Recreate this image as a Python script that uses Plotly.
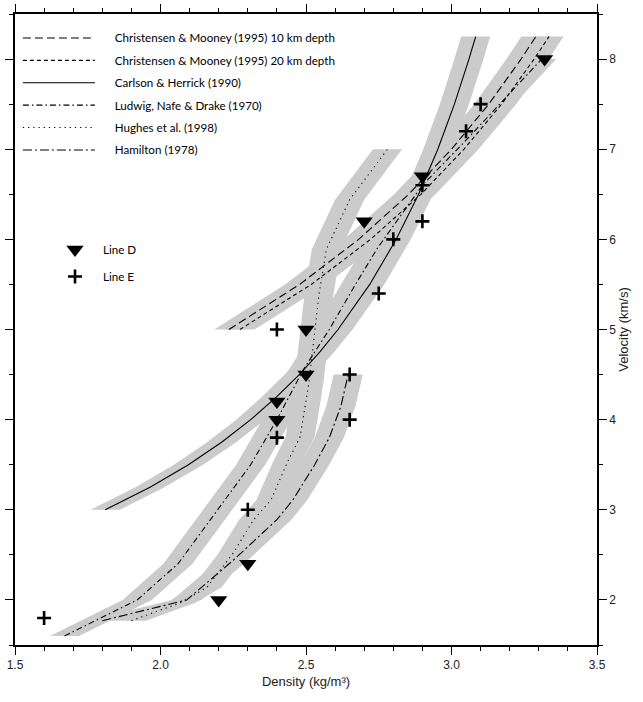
import plotly.graph_objects as go

# ---------------- data ----------------
# Christensen & Mooney (1995) 10 km depth
cm10_rho = [2.235, 2.478, 2.681, 2.853, 3.000, 3.128, 3.239, 3.290]
cm10_vp = [5.0, 5.5, 6.0, 6.5, 7.0, 7.5, 8.0, 8.25]
# Christensen & Mooney (1995) 20 km depth
cm20_rho = [2.273, 2.518, 2.722, 2.895, 3.043, 3.172, 3.284, 3.335]
cm20_vp = [5.0, 5.5, 6.0, 6.5, 7.0, 7.5, 8.0, 8.25]
# Carlson & Herrick (1990)
ch_rho = [1.81, 1.964, 2.096, 2.21, 2.31, 2.398, 2.477, 2.547, 2.61, 2.719, 2.81, 2.887, 2.953, 3.01, 3.06, 3.083]
ch_vp = [3.0, 3.25, 3.5, 3.75, 4.0, 4.25, 4.5, 4.75, 5.0, 5.5, 6.0, 6.5, 7.0, 7.5, 8.0, 8.25]
# Ludwig, Nafe & Drake (1970)
lnd_rho = [1.67, 1.92, 2.06, 2.15, 2.22, 2.31, 2.40, 2.49, 2.58, 2.67, 2.745, 2.90, 3.05, 3.18, 3.31]
lnd_vp = [1.6, 2.0, 2.4, 2.8, 3.1, 3.5, 4.0, 4.55, 5.0, 5.5, 5.9, 6.6, 7.1, 7.55, 8.0]
# Hughes et al. (1998)
hu_rho = [1.90, 2.07, 2.16, 2.25, 2.32, 2.38, 2.435, 2.48, 2.51, 2.53, 2.545, 2.57, 2.65, 2.78]
hu_vp = [1.77, 1.97, 2.14, 2.52, 2.89, 3.11, 3.52, 3.81, 4.41, 5.0, 5.4, 5.89, 6.44, 7.0]
# Hamilton (1978)
ha_rho = [1.80, 2.09, 2.25, 2.40, 2.455, 2.53, 2.58, 2.62, 2.645]
ha_vp = [1.77, 2.0, 2.44, 2.89, 3.11, 3.5, 3.8, 4.15, 4.5]

# Observations
line_d_rho = [2.2, 2.3, 2.4, 2.4, 2.5, 2.5, 2.7, 2.9, 3.32]
line_d_vp = [2.0, 2.4, 4.0, 4.2, 4.5, 5.0, 6.2, 6.7, 8.0]
line_e_rho = [1.6, 2.3, 2.4, 2.4, 2.65, 2.65, 2.75, 2.8, 2.9, 2.9, 3.05, 3.1]
line_e_vp = [1.8, 3.0, 3.8, 5.0, 4.0, 4.5, 5.4, 6.0, 6.2, 6.6, 7.2, 7.5]

curve_names = [
    "Christensen & Mooney (1995) 10 km depth",
    "Christensen & Mooney (1995) 20 km depth",
    "Carlson & Herrick (1990)",
    "Ludwig, Nafe & Drake (1970)",
    "Hughes et al. (1998)",
    "Hamilton (1978)",
]
curves = [(cm10_rho, cm10_vp), (cm20_rho, cm20_vp), (ch_rho, ch_vp),
          (lnd_rho, lnd_vp), (hu_rho, hu_vp), (ha_rho, ha_vp)]
dashes = ["8px,4px", "4px,3px", "solid", "6px,3px,1.5px,3px", "1.2px,4px", "9px,3px,2px,3px"]

BAND = 0.05  # half width of grey uncertainty band (density units)
PAD = "\u00a0\u00a0\u00a0\u00a0\u00a0"

fig = go.Figure()

# grey bands
for rho, vp in curves:
    bx = [r + BAND for r in rho] + [r - BAND for r in rho[::-1]]
    by = list(vp) + list(vp[::-1])
    fig.add_trace(go.Scatter(x=bx, y=by, mode="lines", fill="toself",
                             fillcolor="#cbcbcb", line=dict(width=0),
                             showlegend=False, hoverinfo="skip"))

# curves
for i, ((rho, vp), name, dash) in enumerate(zip(curves, curve_names, dashes)):
    fig.add_trace(go.Scatter(x=rho, y=vp, mode="lines", name=PAD + name,
                             line=dict(color="black", width=1.1, dash=dash),
                             legendgroup=f"g{i}", legend="legend"))

# observations
fig.add_trace(go.Scatter(x=line_d_rho, y=line_d_vp, mode="markers", name="Line D",
                         marker=dict(symbol="triangle-down", size=15, color="black"),
                         legendgroup="d", legend="legend2"))
fig.add_trace(go.Scatter(x=line_e_rho, y=line_e_vp, mode="markers", name="Line E",
                         marker=dict(symbol="cross-thin", size=10,
                                     line=dict(color="black", width=2.6), color="black"),
                         legendgroup="e", legend="legend2"))

tickfont = dict(family="Liberation Sans Narrow, Liberation Sans, Arial", size=12, color="#222")
titlefont = dict(family="Liberation Sans Narrow, Liberation Sans, Arial", size=13, color="#222")
legfont = dict(family="Lato, Open Sans, sans-serif", size=11.6, color="black")

fig.update_layout(
    width=643, height=702,
    margin=dict(l=15, r=46, t=14, b=57),
    plot_bgcolor="white", paper_bgcolor="white",
    legend=dict(x=0.005, y=0.985, xanchor="left", yanchor="top",
                bgcolor="rgba(0,0,0,0)", font=legfont, itemwidth=72,
                tracegroupgap=3.4, traceorder="grouped"),
    legend2=dict(x=0.055, y=0.6498, xanchor="left", yanchor="top",
                 bgcolor="rgba(0,0,0,0)", font=legfont, itemwidth=46,
                 tracegroupgap=8, traceorder="grouped"),
    xaxis=dict(range=[1.5, 3.5], dtick=0.5, tickformat=".1f", automargin=False,
               showline=True, linecolor="black", linewidth=1.5, mirror="ticks",
               ticks="outside", ticklen=8, tickwidth=1, tickcolor="black",
               minor=dict(dtick=0.1, ticks="outside", ticklen=4, tickcolor="black"),
               showgrid=False, zeroline=False, tickfont=tickfont,
               title=dict(text="Density (kg/m³)", font=titlefont, standoff=6)),
    yaxis=dict(range=[1.5, 8.5], dtick=1, side="right", automargin=False,
               showline=True, linecolor="black", linewidth=1.5, mirror="ticks",
               ticks="outside", ticklen=8, tickwidth=1, tickcolor="black",
               minor=dict(dtick=0.5, ticks="outside", ticklen=4, tickcolor="black"),
               showgrid=False, zeroline=False, tickfont=tickfont,
               title=dict(text="Velocity (km/s)", font=titlefont, standoff=2)),
)

fig.write_html("out.html")
